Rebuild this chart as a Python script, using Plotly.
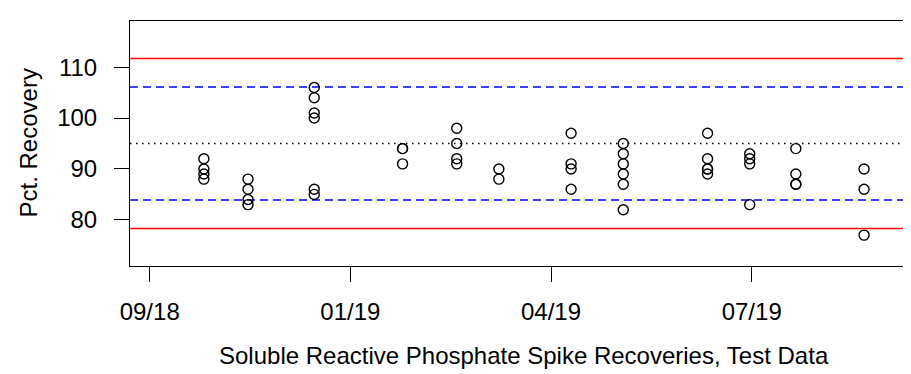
import plotly.graph_objects as go

# ---- data ----
sample_dates = ["2018-10-23", "2018-11-14", "2018-12-17", "2019-01-30", "2019-02-26",
                "2019-03-19", "2019-04-24", "2019-05-20", "2019-07-01", "2019-07-22",
                "2019-08-14", "2019-09-17"]
recoveries = [
    [92, 90, 89, 88],
    [88, 86, 84, 83],
    [106, 104, 101, 100, 86, 85],
    [94, 94, 91],
    [98, 95, 92, 91],
    [90, 88],
    [97, 91, 90, 86],
    [95, 93, 91, 89, 87, 82],
    [97, 92, 90, 90, 89],
    [93, 92, 91, 83],
    [94, 89, 87, 87],
    [90, 86, 77],
]
center_line = 95.0
warning_limits = [83.9, 106.1]
control_limits = [78.3, 111.7]

x_tick_dates = ["2018-09-26", "2019-01-04", "2019-04-14", "2019-07-23"]
x_tick_labels = ["09/18", "01/19", "04/19", "07/19"]
y_tick_vals = [80, 90, 100, 110]

x_range = ["2018-09-16 04:19", "2019-10-13 20:53"]
y_range = [70.94, 119.06]

xs, ys = [], []
for d, vals in zip(sample_dates, recoveries):
    for v in vals:
        xs.append(d)
        ys.append(v)

FONT = "Liberation Sans, Arial, Helvetica, sans-serif"
FS = 24
fig = go.Figure()

for y in control_limits:
    fig.add_hline(y=y, line=dict(color="#FF0000", width=1.5), layer="below")
for y in warning_limits:
    fig.add_hline(y=y, line=dict(color="#0000FF", width=1.5, dash="8px,5px"), layer="below")
fig.add_hline(y=center_line, line=dict(color="black", width=1.3, dash="1.5px,4.5px"), layer="below")

fig.add_trace(go.Scatter(
    x=xs, y=ys, mode="markers",
    marker=dict(symbol="circle-open", size=10, color="black", line=dict(width=1.4, color="black")),
    showlegend=False, hoverinfo="x+y"))

fig.update_layout(
    width=911, height=374,
    margin=dict(l=122, r=1, t=13, b=116),
    paper_bgcolor="white", plot_bgcolor="white",
    font=dict(family=FONT, size=FS, color="black"),
    xaxis=dict(type="date", range=x_range, tickvals=x_tick_dates, ticktext=x_tick_labels,
               showgrid=False, zeroline=False, showline=True, mirror=True,
               linecolor="black", linewidth=1, ticks="outside", ticklen=15,
               tickcolor="black", tickwidth=1, ticklabelstandoff=9,
               tickfont=dict(family=FONT, size=FS)),
    yaxis=dict(range=y_range, tickvals=y_tick_vals,
               showgrid=False, zeroline=False, showline=True, mirror=True,
               linecolor="black", linewidth=1, ticks="outside", ticklen=15,
               tickcolor="black", tickwidth=1, ticklabelstandoff=12,
               tickfont=dict(family=FONT, size=FS)),
    annotations=[
        dict(text="Soluble Reactive Phosphate Spike Recoveries, Test Data",
             xref="paper", yref="paper", x=0.5, y=(258 - 347) / 245,
             xanchor="center", yanchor="middle", showarrow=False,
             font=dict(family=FONT, size=FS)),
        dict(text="Pct. Recovery", xref="paper", yref="paper",
             x=(20 - 122) / 788, y=0.5, textangle=-90,
             xanchor="center", yanchor="middle", showarrow=False,
             font=dict(family=FONT, size=FS)),
    ],
)

fig.write_html("out.html")
